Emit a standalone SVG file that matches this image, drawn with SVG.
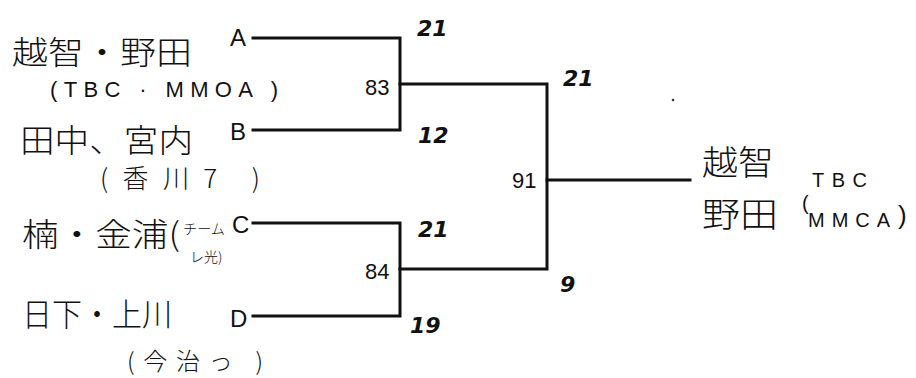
<svg xmlns="http://www.w3.org/2000/svg" width="916" height="378" viewBox="0 0 916 378">
<style>
.jp{font-family:"Noto Sans CJK JP","Noto Sans",sans-serif;fill:#111;font-weight:300}
.lt{font-family:"Liberation Sans",Arial,sans-serif;fill:#111}
.sc{font-family:"DejaVu Sans",sans-serif;fill:#111;font-weight:bold;font-style:italic;font-size:22px}
.ln{fill:none;stroke:#111;stroke-width:3;stroke-linecap:square;stroke-linejoin:miter}
</style>
<rect width="916" height="378" fill="#fff"/>
<g id="connectors">
<path class="ln" d="M253,38 H400 V130 H253"/>
<path class="ln" d="M253,223 H400 V316 H253"/>
<path class="ln" d="M400,84 H547 V269 H400"/>
<path class="ln" d="M547,180 H690"/>
</g>
<g id="teamA">
<text class="jp" x="12" y="64" font-size="32" textLength="180" lengthAdjust="spacingAndGlyphs">越智・野田</text>
<text class="lt" x="50" y="97" font-size="22" textLength="228" lengthAdjust="spacing">(TBC · MMOA )</text>
<text class="lt" x="230" y="46" font-size="24">A</text>
<text class="sc" x="417" y="36">21</text>
</g>
<g id="teamB">
<text class="jp" x="20" y="152" font-size="32" textLength="173" lengthAdjust="spacingAndGlyphs">田中、宮内</text>
<text class="jp" x="100" y="188" font-size="26" textLength="160" lengthAdjust="spacing">(香川7 )</text>
<text class="lt" x="230" y="140" font-size="24">B</text>
<text class="sc" x="418" y="143">12</text>
</g>
<g id="teamC">
<text class="jp" x="22" y="246" font-size="32" textLength="158" lengthAdjust="spacingAndGlyphs">楠・金浦(</text>
<text class="jp" x="183" y="234" font-size="14" textLength="42" lengthAdjust="spacingAndGlyphs">チーム</text>
<text class="jp" x="190" y="262" font-size="14">レ光)</text>
<text class="lt" x="232" y="233" font-size="24">C</text>
<text class="sc" x="418" y="237">21</text>
</g>
<g id="teamD">
<text class="jp" x="22" y="326" font-size="32" textLength="150" lengthAdjust="spacingAndGlyphs">日下・上川</text>
<text class="jp" x="127" y="370" font-size="24" textLength="136" lengthAdjust="spacing">(今治っ )</text>
<text class="lt" x="230" y="327" font-size="24">D</text>
<text class="sc" x="410" y="333">19</text>
</g>
<g id="match1">
<text class="lt" x="365" y="95" font-size="22">83</text>
<text class="sc" x="563" y="86">21</text>
</g>
<g id="match2">
<text class="lt" x="365" y="279" font-size="22">84</text>
<text class="sc" x="560" y="292">9</text>
</g>
<g id="final">
<text class="lt" x="512" y="188" font-size="22">91</text>
</g>
<g id="winner">
<text class="jp" x="702" y="175" font-size="34" textLength="72" lengthAdjust="spacingAndGlyphs">越智</text>
<text class="jp" x="702" y="227" font-size="34" textLength="76" lengthAdjust="spacingAndGlyphs">野田</text>
<text class="lt" x="802" y="210" font-size="20">(</text>
<text class="lt" x="812" y="187" font-size="20" textLength="55" lengthAdjust="spacing">TBC</text>
<text class="lt" x="808" y="227" font-size="20" textLength="82" lengthAdjust="spacing">MMCA</text>
<text class="lt" x="898" y="224" font-size="26">)</text>
</g>
<circle cx="673" cy="100" r="1.3" fill="#333"/>
</svg>
